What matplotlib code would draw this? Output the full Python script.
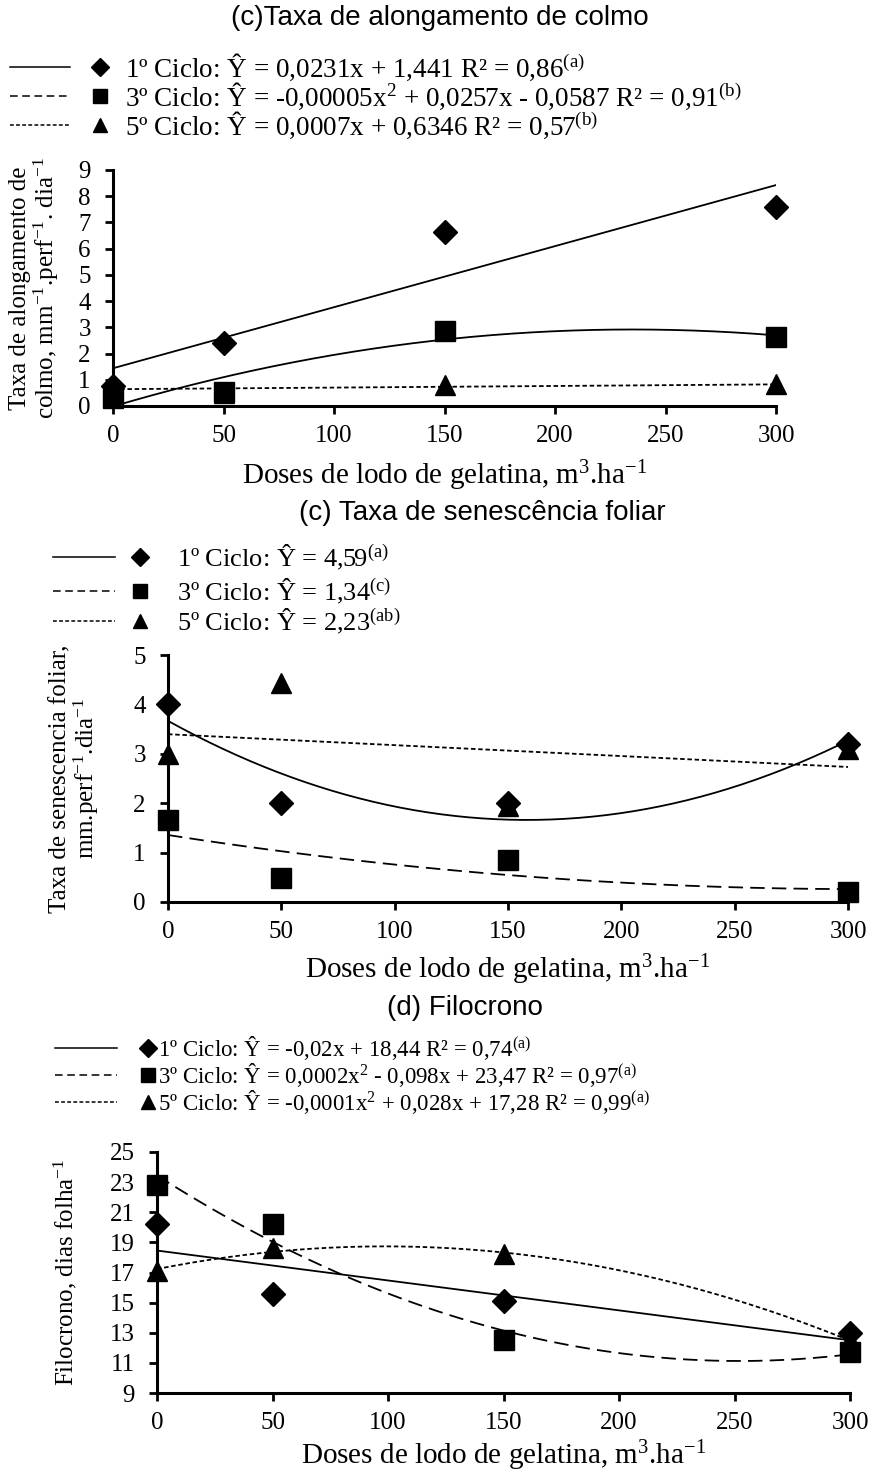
import matplotlib
matplotlib.use('Agg')
import matplotlib.pyplot as plt
from matplotlib.lines import Line2D
import numpy as np

plt.rcParams['font.family'] = ['Liberation Serif', 'DejaVu Serif']
plt.rcParams['mathtext.fontset'] = 'custom'
plt.rcParams['mathtext.rm'] = 'Liberation Serif'
plt.rcParams['mathtext.it'] = 'Liberation Serif:italic'

# doses (m3/ha)
doses = [0, 50, 150, 300]

# (c) Taxa de alongamento de colmo
alc_c1 = [0.75, 2.4, 6.65, 7.6]
alc_c3 = [0.3, 0.53, 2.85, 2.63]
alc_c5 = [0.75, 0.5, 0.8, 0.82]

# (c) Taxa de senescencia foliar
sen_c1 = [4.0, 2.0, 2.0, 3.2]
sen_c3 = [1.66, 0.48, 0.85, 0.2]
sen_c5 = [3.0, 4.43, 1.95, 3.1]

# (d) Filocrono
fil_c1 = [20.2, 15.6, 15.1, 13.0]
fil_c3 = [22.8, 20.2, 12.5, 11.7]
fil_c5 = [17.1, 18.6, 18.2, 12.5]

leg_alc = ['1º Ciclo: Ŷ = 0,0231x + 1,441 R² = 0,86$^{\\mathrm{(a)}}$',
           '3º Ciclo: Ŷ = -0,00005x$^{\\mathrm{2}}$ + 0,0257x - 0,0587 R² = 0,91$^{\\mathrm{(b)}}$',
           '5º Ciclo: Ŷ = 0,0007x + 0,6346 R² = 0,57$^{\\mathrm{(b)}}$']
leg_sen = ['1º Ciclo: Ŷ = 4,59$^{\\mathrm{(a)}}$',
           '3º Ciclo: Ŷ = 1,34$^{\\mathrm{(c)}}$',
           '5º Ciclo: Ŷ = 2,23$^{\\mathrm{(ab)}}$']
leg_fil = ['1º Ciclo: Ŷ = -0,02x + 18,44 R² = 0,74$^{\\mathrm{(a)}}$',
           '3º Ciclo: Ŷ = 0,0002x$^{\\mathrm{2}}$ - 0,098x + 23,47 R² = 0,97$^{\\mathrm{(a)}}$',
           '5º Ciclo: Ŷ = -0,0001x$^{\\mathrm{2}}$ + 0,028x + 17,28 R² = 0,99$^{\\mathrm{(a)}}$']

W, H = 872, 1472
fig = plt.figure(figsize=(W / 100, H / 100), dpi=100)

DOT = (0, (2.5, 1.5))
DASH = (0, (8, 4))
marcas = [('D', 12), ('s', 14), ('^', 14)]


def eixo(left, top, right, bottom):
    return fig.add_axes([left / W, 1 - bottom / H, (right - left) / W, (bottom - top) / H])


def tendencia(ax, y, grau, ls):
    coef = np.polyfit(doses, y, grau)
    xs = np.linspace(0, 300, 200)
    ax.plot(xs, np.polyval(coef, xs), color='k', lw=1.3, ls=ls, zorder=2)


def estilo(ax, ylim, yticks):
    ax.set_xlim(0, 300)
    ax.set_ylim(*ylim)
    ax.set_xticks(range(0, 301, 50))
    ax.set_yticks(yticks)
    for s in ['top', 'right']:
        ax.spines[s].set_visible(False)
    for s in ['left', 'bottom']:
        ax.spines[s].set_linewidth(2.2)
    ax.tick_params(direction='out', length=6, width=2, labelsize=18)
    ax.tick_params(axis='y', pad=10)
    ax.tick_params(axis='x', pad=8)


def pontos(ax, series):
    for y, (mk, ms) in zip(series, marcas):
        ax.plot(doses, y, ls='none', marker=mk, ms=ms, color='k', clip_on=False, zorder=3)


def legenda(textos, estilos, ys, xl, xm, xt, fs):
    for txt, ls, (mk, ms), y in zip(textos, estilos, marcas, ys):
        fy = 1 - y / H
        fig.add_artist(Line2D([xl[0] / W, xl[1] / W], [fy, fy], color='k', lw=1.1, ls=ls))
        fig.add_artist(Line2D([xm / W], [fy], marker=mk, ms=ms * 0.75, color='k', ls='none'))
        fig.text(xt / W, fy, txt, va='center', fontsize=fs)


def rotulos(ax, ylab, ypx, xpx, top, bottom, left, right):
    ax.set_xlabel(xlab, fontsize=21, va='center')
    ax.xaxis.set_label_coords(0.5, -(xpx - bottom) / (bottom - top))
    ax.set_ylabel(ylab, fontsize=18, va='center', linespacing=1.0)
    ax.yaxis.set_label_coords((ypx - left) / (right - left), 0.5)


xlab = 'Doses de lodo de gelatina, m$^{\\mathrm{3}}$.ha$^{\\mathrm{-1}}$'

# ---- painel 1
ax1 = eixo(113, 170, 776, 406)
tendencia(ax1, alc_c1, 1, '-')
tendencia(ax1, alc_c3, 2, '-')
tendencia(ax1, alc_c5, 1, DOT)
pontos(ax1, [alc_c1, alc_c3, alc_c5])
estilo(ax1, (0, 9), range(0, 10))
rotulos(ax1, 'Taxa de alongamento de\ncolmo, mm$^{\\mathrm{-1}}$.perf$^{\\mathrm{-1}}$. dia$^{\\mathrm{-1}}$',
        35, 476, 170, 406, 113, 776)
fig.text(440 / W, 1 - 18 / H, '(c)Taxa de alongamento de colmo', ha='center', va='center',
         fontsize=20, family='Liberation Sans')
legenda(leg_alc, ['-', (0, (5, 3)), DOT], [67, 96, 125], (10, 70), 100, 125, 19.5)

# ---- painel 2
ax2 = eixo(168, 655, 848, 902)
tendencia(ax2, sen_c1, 2, '-')
tendencia(ax2, sen_c3, 2, DASH)
tendencia(ax2, sen_c5, 1, DOT)
pontos(ax2, [sen_c1, sen_c3, sen_c5])
estilo(ax2, (0, 5), range(0, 6))
rotulos(ax2, 'Taxa de senescencia foliar,\nmm.perf$^{\\mathrm{-1}}$.dia$^{\\mathrm{-1}}$',
        75, 970, 655, 902, 168, 848)
fig.text(482 / W, 1 - 513 / H, '(c) Taxa de senescência foliar', ha='center', va='center',
         fontsize=20, family='Liberation Sans')
legenda(leg_sen, ['-', (0, (5, 3)), DOT], [557, 591, 621], (53, 115), 140, 177, 19)

# ---- painel 3
ax3 = eixo(157, 1152, 850, 1393)
tendencia(ax3, fil_c1, 1, '-')
tendencia(ax3, fil_c3, 2, DASH)
tendencia(ax3, fil_c5, 2, DOT)
pontos(ax3, [fil_c1, fil_c3, fil_c5])
estilo(ax3, (9, 25), range(9, 26, 2))
rotulos(ax3, 'Filocrono, dias folha$^{\\mathrm{-1}}$', 65, 1456, 1152, 1393, 157, 850)
fig.text(465 / W, 1 - 1008 / H, '(d) Filocrono', ha='center', va='center',
         fontsize=20, family='Liberation Sans')
legenda(leg_fil, ['-', (0, (5, 3)), DOT], [1048, 1075, 1102], (55, 117), 148, 158, 16.5)

fig.savefig('out.png', dpi=100)
